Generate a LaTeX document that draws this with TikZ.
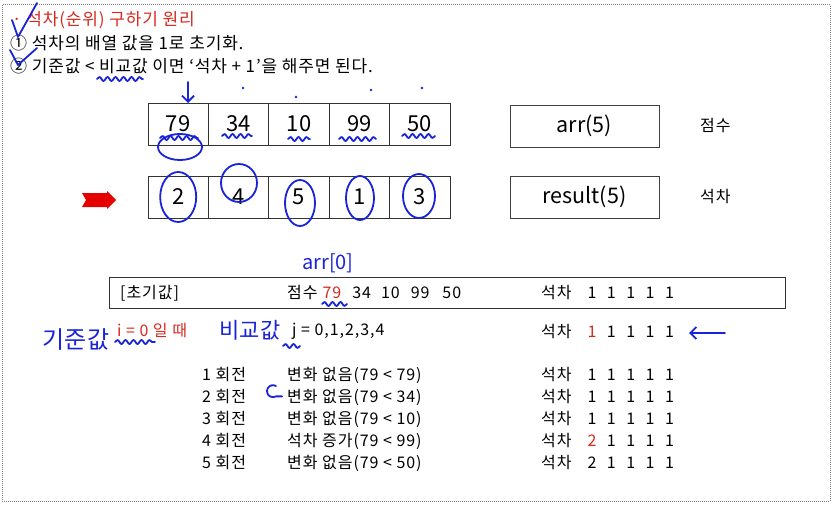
\documentclass[tikz,border=0pt]{standalone}
\usepackage{fontspec}
\setmainfont{Noto Sans CJK KR}
\usetikzlibrary{arrows.meta,positioning,calc,decorations.pathmorphing}
\definecolor{ink}{RGB}{25,35,215}
\definecolor{redtxt}{RGB}{215,40,30}
\newcommand{\rk}[5]{#1\hspace{10.5pt}#2\hspace{10.5pt}#3\hspace{10.5pt}#4\hspace{10.5pt}#5}
\newcommand{\rd}[1]{\textcolor{redtxt}{#1}}

\begin{document}
\begin{tikzpicture}[x=1pt,y=-1pt,
  cell/.style={draw=black!80, line width=0.9pt, minimum width=60.4pt,
               minimum height=42pt, inner sep=0pt, font=\fontsize{22}{24}\selectfont},
  namebox/.style={draw=black!75, line width=0.8pt, minimum width=149pt,
                  minimum height=42pt, font=\fontsize{21.5}{24}\selectfont},
  txt/.style={anchor=west, inner sep=0pt,
              font=\fontsize{16}{18}\selectfont\addfontfeature{LetterSpace=6}},
  head/.style={anchor=west, inner sep=0pt,
               font=\fontsize{17}{19}\selectfont\addfontfeature{LetterSpace=5}},
  pen/.style={ink, line width=1.8pt, line cap=round, line join=round},
  wiggle/.style={pen, decorate, decoration={snake, amplitude=2pt, segment length=8pt}},
  hand/.style={text=ink, inner sep=0pt, font=\fontsize{20}{22}\selectfont}
]
\useasboundingbox (0,0) rectangle (835,508);
\draw[gray, densely dotted, line width=1pt] (2,5) rectangle (830,501);

% heading lines
\node[head, text=redtxt] (title) at (12,20) {· 석차(순위) 구하기 원리};
\node[head] (rule1) at (10,43) {① 석차의 배열 값을 1로 초기화.};
\node[head] (rule2) at (10,66) {② 기준값 < 비교값 이면 ‘석차 + 1’을 해주면 된다.};

% arrays
\node[cell] (a1) at (178.2,124) {79};
\node[cell] (a2) at (238.6,124) {34};
\node[cell] (a3) at (299,124) {10};
\node[cell] (a4) at (359.4,124) {99};
\node[cell] (a5) at (419.8,124) {50};
\node[cell] (r1) at (178.2,197) {2};
\node[cell] (r2) at (238.6,197) {4};
\node[cell] (r3) at (299,197) {5};
\node[cell] (r4) at (359.4,197) {1};
\node[cell] (r5) at (419.8,197) {3};

\node[namebox] (arrbox) at (584.5,126) {arr(5)};
\node[namebox] (resbox) at (584.5,197) {result(5)};
\node[txt] (lblscore) at (700,126) {점수};
\node[txt] (lblrank) at (700,197) {석차};

\fill[red!90!black] (82,193) -- (107,193) -- (107,191) -- (116,200) -- (107,209)
  -- (107,207) -- (82,207) -- (86,200) -- cycle;

% trace table
\node[draw=black!80, line width=0.8pt, minimum width=676pt, minimum height=31pt,
      inner sep=0pt] (initbox) at (447,292.5) {};
\node[txt] (initlbl) at (120,293) {[초기값]};
\node[txt] (initscore) at (287,293)
  {점수\hspace{5pt}\rd{79}\hspace{11pt}34\hspace{10pt}10\hspace{11pt}99\hspace{13pt}50};
\node[txt] (initrank) at (541,293) {석차\hspace{16pt}\rk{1}{1}{1}{1}{1}};

\node[txt, text=redtxt] (iloop) at (117,331) {i = 0 일 때};
\node[txt] (jloop) at (292,331) {j = 0,1,2,3,4};
\node[txt] (irank) at (541,332) {석차\hspace{16pt}\rk{\rd{1}}{1}{1}{1}{1}};

\node[txt] (p1) at (202,375) {1 회전};
\node[txt] (p2) at (202,397) {2 회전};
\node[txt] (p3) at (202,419) {3 회전};
\node[txt] (p4) at (202,441) {4 회전};
\node[txt] (p5) at (202,463) {5 회전};
\node[txt] (c1) at (287,375) {변화 없음(79 < 79)};
\node[txt] (c2) at (287,397) {변화 없음(79 < 34)};
\node[txt] (c3) at (287,419) {변화 없음(79 < 10)};
\node[txt] (c4) at (287,441) {석차 증가(79 < 99)};
\node[txt] (c5) at (287,463) {변화 없음(79 < 50)};
\node[txt] (s1) at (541,375) {석차\hspace{16pt}\rk{1}{1}{1}{1}{1}};
\node[txt] (s2) at (541,397) {석차\hspace{16pt}\rk{1}{1}{1}{1}{1}};
\node[txt] (s3) at (541,419) {석차\hspace{16pt}\rk{1}{1}{1}{1}{1}};
\node[txt] (s4) at (541,441) {석차\hspace{16pt}\rk{\rd{2}}{1}{1}{1}{1}};
\node[txt] (s5) at (541,463) {석차\hspace{16pt}\rk{2}{1}{1}{1}{1}};

% pen marks
\draw[pen] (12,20) -- (18,37) -- (37,3);
\draw[pen] (10,50) -- (18,65) -- (37,48);
\draw[wiggle] (97,79) -- (143,79);
\draw[pen, -{Straight Barb[length=6pt]}] (188,82) -- (188,103);
\draw[wiggle] (160,138) -- (198,138);
\draw[wiggle] (222,136) -- (252,136);
\draw[wiggle] (288,139) -- (310,139);
\draw[wiggle] (339,139) -- (376,139);
\draw[wiggle] (402,136) -- (435,136);
\draw[pen] (180,147) ellipse (22pt and 13pt);
\foreach \p in {(243,88),(296,97),(371,90),(422,88)}
  \fill[ink] \p circle (1.3pt);
\draw[pen] (r1) ellipse (18pt and 25pt);
\draw[pen] (239,183) ellipse (18pt and 19pt);
\draw[pen] (300,203) ellipse (15pt and 23pt);
\draw[pen] (360,198) ellipse (14pt and 22pt);
\draw[pen] (419,196) ellipse (16pt and 22pt);

\node[hand] (note0) at (328,263) {arr[0]};
\draw[wiggle] (322,304) -- (347,304);
\node[hand, font=\fontsize{24}{26}\selectfont] (notebase) at (76,340) {기준값};
\draw[wiggle] (115,342) -- (155,342);
\node[hand, font=\fontsize{22}{24}\selectfont] (notecmp) at (250,330) {비교값};
\draw[wiggle] (283,346) -- (300,346);
\draw[pen, -{Straight Barb[length=6pt]}] (725,333) -- (689,333);
\draw[pen] (276,386) arc (60:300:6pt) -- ++(6,0);
\end{tikzpicture}
\end{document}
